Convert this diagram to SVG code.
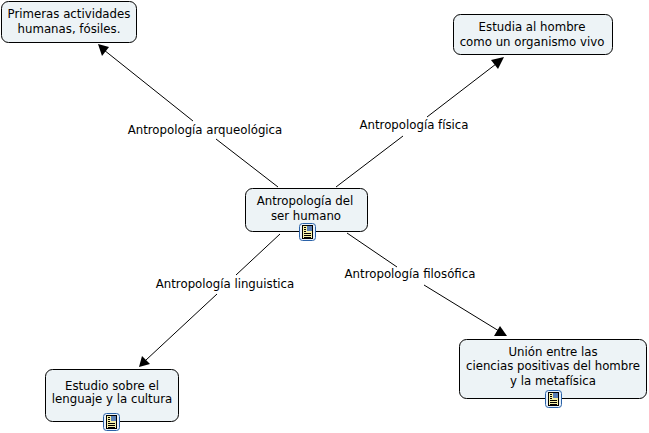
<svg xmlns="http://www.w3.org/2000/svg" width="649" height="433" viewBox="0 0 649 433">
<style>
text{font-family:"DejaVu Sans","Liberation Sans",sans-serif;font-size:11.75px;fill:#000;text-anchor:middle}
.box{fill:#edf3f6;stroke:#000;stroke-width:1}
.ln{fill:none;stroke:#000;stroke-width:1}
.ah{fill:#000;stroke:none}
</style>
<defs>
<g id="ic">
<rect x="0.5" y="0.5" width="16" height="17" rx="3" fill="#e8f1fb" stroke="#2a62a8"/>
<rect x="3.5" y="2.5" width="10" height="13" fill="#f6f0a8" stroke="#000"/>
<rect x="8" y="3" width="5" height="5" fill="#5a7fb5"/>
<path d="M5 10.5H12M5 12.5H12M5 14.5H12M5 4.5H7M5 6.5H7M5 8.5H7" stroke="#000"/>
</g>
</defs>
<rect width="649" height="433" fill="#fff"/>
<g id="connectors">
<path class="ln" d="M278 187L216 139M193 121L104 50"/>
<polygon class="ah" points="98,44 109,47 102,56"/>
<path class="ln" d="M336 187L403 136M427 117L496 64"/>
<polygon class="ah" points="504,57 491,60 498,69"/>
<path class="ln" d="M280 234L236 275M217 294L146 360"/>
<polygon class="ah" points="139,367 142,356 150,364"/>
<path class="ln" d="M347 233L397 267M424 285L499 331"/>
<polygon class="ah" points="500,326 494,336 507,336"/>
</g>
<g id="label-arqueologica"><text x="205" y="134">Antropología arqueológica</text></g>
<g id="label-fisica"><text x="414" y="129">Antropología física</text></g>
<g id="label-linguistica"><text x="225" y="288">Antropología linguistica</text></g>
<g id="label-filosofica"><text x="410" y="278">Antropología filosófica</text></g>
<g id="node-primeras">
<rect class="box" x="1.5" y="1.5" width="135" height="41" rx="7"/>
<text x="69" y="18">Primeras actividades</text>
<text x="69" y="33">humanas, fósiles.</text>
</g>
<g id="node-estudia">
<rect class="box" x="453.5" y="14.5" width="159" height="40" rx="7"/>
<text x="532" y="31">Estudia al hombre</text>
<text x="532" y="46">como un organismo vivo</text>
</g>
<g id="node-centro">
<rect class="box" x="245.5" y="188.5" width="122" height="43" rx="7"/>
<text x="305" y="205">Antropología del</text>
<text x="306" y="220">ser humano</text>
<use href="#ic" x="299" y="223"/>
</g>
<g id="node-estudio">
<rect class="box" x="45.5" y="369.5" width="133" height="52" rx="7"/>
<text x="112" y="390">Estudio sobre el</text>
<text x="112" y="403">lenguaje y la cultura</text>
<use href="#ic" x="103" y="413"/>
</g>
<g id="node-union">
<rect class="box" x="459.5" y="339.5" width="187" height="59" rx="7"/>
<text x="553" y="356">Unión entre las</text>
<text x="553" y="370">ciencias positivas del hombre</text>
<text x="553" y="385">y la metafísica</text>
<use href="#ic" x="545" y="390"/>
</g>
</svg>
